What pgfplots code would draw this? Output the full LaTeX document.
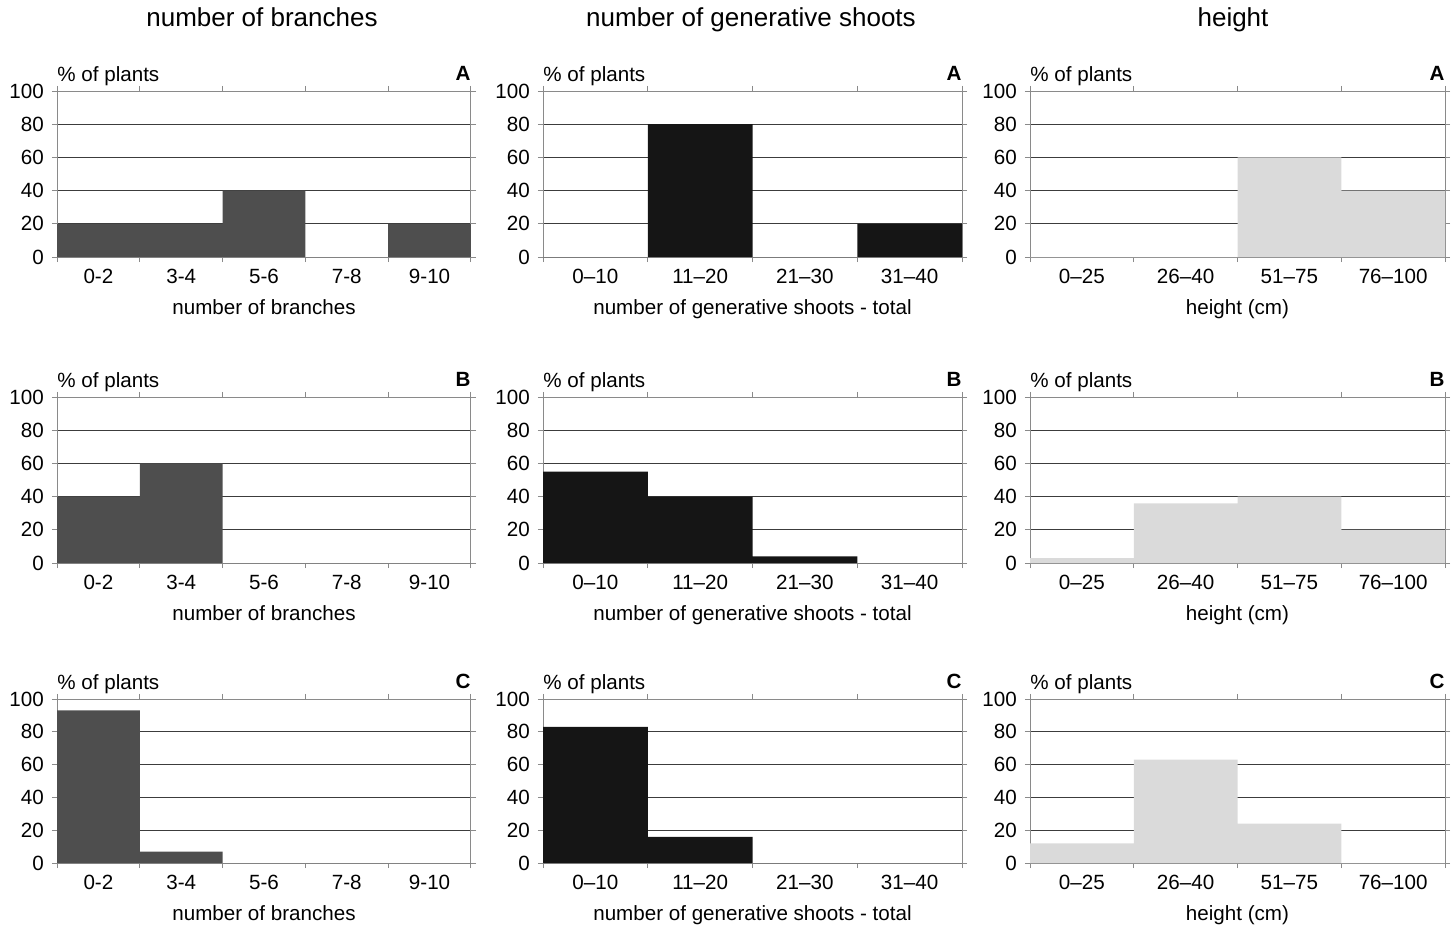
\documentclass[border=0pt]{standalone}
\usepackage{pgfplots}
\pgfplotsset{compat=1.18}
\usepackage{fontspec}
\setmainfont{Liberation Sans}
\definecolor{cA}{HTML}{4E4E4E}
\definecolor{cB}{HTML}{151515}
\definecolor{cC}{HTML}{DADADA}
\definecolor{gridc}{HTML}{3C3C3C}
\definecolor{framec}{HTML}{8A8A8A}
\newcommand\lf{\fontsize{10.3}{12}\selectfont}
\pgfplotsset{
  panel/.style={
    scale only axis, anchor=north west, clip=false,
    ymin=0, ymax=100, xmin=0,
    ytick={0,20,40,60,80,100},
    ymajorgrids, grid style={gridc, line width=0.45pt},
    axis line style={framec, line width=0.5pt},
    tick align=outside, major tick length=2.6pt,
    y tick style={framec, line width=0.5pt},
    x tick style={draw=none},
    extra x tick style={x tick style={draw=framec, line width=0.5pt}, grid=none},
    extra x tick labels={},
    /pgf/number format/assume math mode=true,
    tick label style={font=\lf},
    yticklabel style={xshift=-0.5pt},
    xticklabel style={yshift=0pt},
    label style={font=\lf},
    xlabel style={yshift=4pt},
  },
}
\newcommand\ylab{\node[anchor=base west, font=\lf, inner sep=0pt] at ([yshift=4.8pt]rel axis cs:0,1) {\% of plants};}
\newcommand\plab[1]{\node[anchor=base east, font=\lf\bfseries, inner sep=0pt] at ([yshift=5.5pt]rel axis cs:1,1) {#1};}
\begin{document}
\begin{tikzpicture}
\useasboundingbox (0,0) rectangle (726pt,-464pt);
\node[font=\fontsize{13}{15}\selectfont, anchor=base] at (131pt,-13pt) {number of branches};
\node[font=\fontsize{13}{15}\selectfont, anchor=base] at (375.5pt,-13pt) {number of generative shoots};
\node[font=\fontsize{13}{15}\selectfont, anchor=base] at (616.5pt,-13pt) {height};

% ---------- column 1: number of branches ----------
\begin{axis}[panel, at={(28.5pt,-45.5pt)}, width=207pt, height=83pt, xmax=5,
  xtick={0.5,1.5,2.5,3.5,4.5}, xticklabels={0-2,3-4,5-6,7-8,9-10},
  extra x ticks={0,1,2,3,4,5}, xlabel={number of branches}]
\addplot[ybar, bar width=1, bar shift=0, fill=cA, draw=none] coordinates {(0.5,20) (1.5,20) (2.5,40) (3.5,0) (4.5,20)};
\ylab \plab{A}
\end{axis}
\begin{axis}[panel, at={(28.5pt,-198.5pt)}, width=207pt, height=83pt, xmax=5,
  xtick={0.5,1.5,2.5,3.5,4.5}, xticklabels={0-2,3-4,5-6,7-8,9-10},
  extra x ticks={0,1,2,3,4,5}, xlabel={number of branches}]
\addplot[ybar, bar width=1, bar shift=0, fill=cA, draw=none] coordinates {(0.5,40) (1.5,60) (2.5,0) (3.5,0) (4.5,0)};
\ylab \plab{B}
\end{axis}
\begin{axis}[panel, at={(28.5pt,-349.5pt)}, width=207pt, height=82pt, xmax=5,
  xtick={0.5,1.5,2.5,3.5,4.5}, xticklabels={0-2,3-4,5-6,7-8,9-10},
  extra x ticks={0,1,2,3,4,5}, xlabel={number of branches}]
\addplot[ybar, bar width=1, bar shift=0, fill=cA, draw=none] coordinates {(0.5,93) (1.5,7) (2.5,0) (3.5,0) (4.5,0)};
\ylab \plab{C}
\end{axis}

% ---------- column 2: number of generative shoots ----------
\begin{axis}[panel, at={(271.5pt,-45.5pt)}, width=209.5pt, height=83pt, xmax=4,
  xtick={0.5,1.5,2.5,3.5}, xticklabels={0–10,11–20,21–30,31–40},
  extra x ticks={0,1,2,3,4}, xlabel={number of generative shoots - total}]
\addplot[ybar, bar width=1, bar shift=0, fill=cB, draw=none] coordinates {(0.5,0) (1.5,80) (2.5,0) (3.5,20)};
\ylab \plab{A}
\end{axis}
\begin{axis}[panel, at={(271.5pt,-198.5pt)}, width=209.5pt, height=83pt, xmax=4,
  xtick={0.5,1.5,2.5,3.5}, xticklabels={0–10,11–20,21–30,31–40},
  extra x ticks={0,1,2,3,4}, xlabel={number of generative shoots - total}]
\addplot[ybar, bar width=1, bar shift=0, fill=cB, draw=none] coordinates {(0.5,55) (1.5,40) (2.5,4) (3.5,0)};
\ylab \plab{B}
\end{axis}
\begin{axis}[panel, at={(271.5pt,-349.5pt)}, width=209.5pt, height=82pt, xmax=4,
  xtick={0.5,1.5,2.5,3.5}, xticklabels={0–10,11–20,21–30,31–40},
  extra x ticks={0,1,2,3,4}, xlabel={number of generative shoots - total}]
\addplot[ybar, bar width=1, bar shift=0, fill=cB, draw=none] coordinates {(0.5,83) (1.5,16) (2.5,0) (3.5,0)};
\ylab \plab{C}
\end{axis}

% ---------- column 3: height ----------
\begin{axis}[panel, at={(515pt,-45.5pt)}, width=207.5pt, height=83pt, xmax=4,
  xtick={0.5,1.5,2.5,3.5}, xticklabels={0–25,26–40,51–75,76–100},
  extra x ticks={0,1,2,3,4}, xlabel={height (cm)}]
\addplot[ybar, bar width=1, bar shift=0, fill=cC, draw=none] coordinates {(0.5,0) (1.5,0) (2.5,60) (3.5,40)};
\ylab \plab{A}
\end{axis}
\begin{axis}[panel, at={(515pt,-198.5pt)}, width=207.5pt, height=83pt, xmax=4,
  xtick={0.5,1.5,2.5,3.5}, xticklabels={0–25,26–40,51–75,76–100},
  extra x ticks={0,1,2,3,4}, xlabel={height (cm)}]
\addplot[ybar, bar width=1, bar shift=0, fill=cC, draw=none] coordinates {(0.5,3) (1.5,36) (2.5,40) (3.5,20)};
\ylab \plab{B}
\end{axis}
\begin{axis}[panel, at={(515pt,-349.5pt)}, width=207.5pt, height=82pt, xmax=4,
  xtick={0.5,1.5,2.5,3.5}, xticklabels={0–25,26–40,51–75,76–100},
  extra x ticks={0,1,2,3,4}, xlabel={height (cm)}]
\addplot[ybar, bar width=1, bar shift=0, fill=cC, draw=none] coordinates {(0.5,12) (1.5,63) (2.5,24) (3.5,0)};
\ylab \plab{C}
\end{axis}
\end{tikzpicture}
\end{document}
